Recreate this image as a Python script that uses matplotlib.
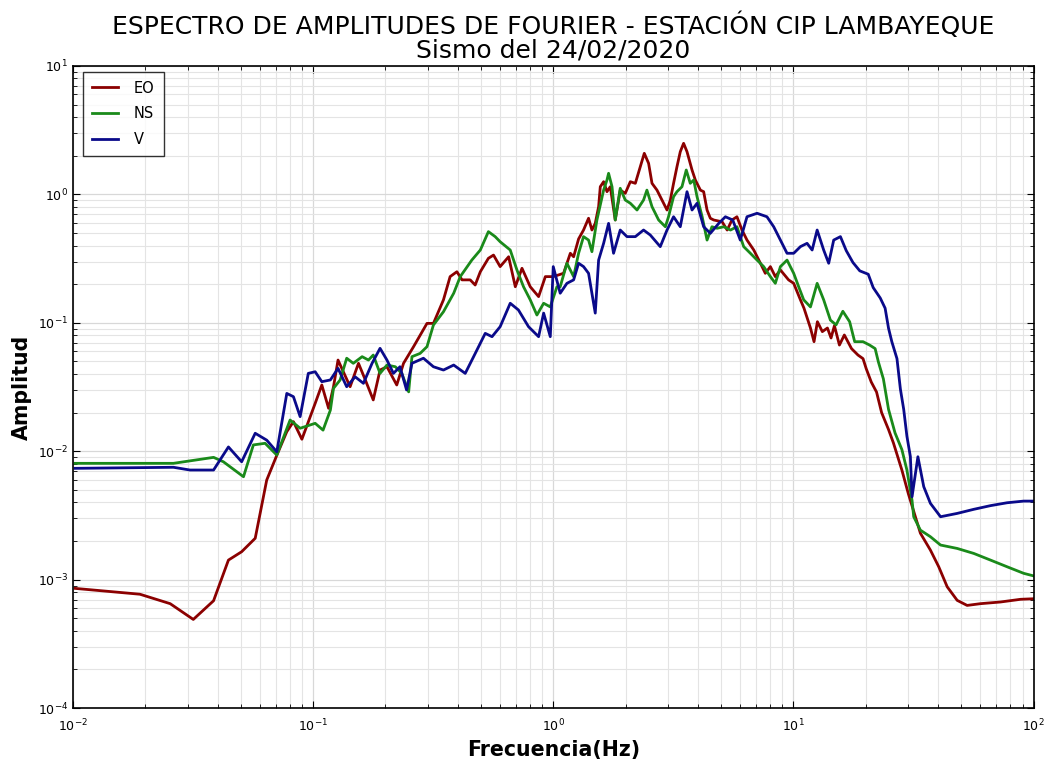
import matplotlib
matplotlib.use("Agg")
import matplotlib.pyplot as plt
import numpy as np

# ---- data ----
eo_freq = [0.0102, 0.019, 0.0254, 0.0317, 0.0385, 0.0444, 0.0504, 0.0574, 0.0641, 0.0706,
           0.0777, 0.0828, 0.0898, 0.102, 0.1087, 0.116, 0.1216, 0.127, 0.1426, 0.1545,
           0.165, 0.178, 0.190, 0.203, 0.223, 0.238, 0.262, 0.298, 0.317, 0.349,
           0.372, 0.397, 0.417, 0.451, 0.473, 0.497, 0.537, 0.564, 0.601, 0.652,
           0.695, 0.741, 0.802, 0.869, 0.927, 1.00, 1.104, 1.178, 1.216, 1.275,
           1.337, 1.403, 1.449, 1.496, 1.545, 1.570, 1.621, 1.674, 1.728, 1.812,
           1.901, 1.995, 2.094, 2.197, 2.304, 2.394, 2.495, 2.578, 2.704, 2.838,
           2.977, 3.073, 3.17, 3.275, 3.381, 3.49, 3.606, 3.784, 3.906, 4.10,
           4.23, 4.37, 4.51, 4.66, 5.05, 5.30, 5.55, 5.82, 6.11, 6.41,
           6.84, 7.29, 7.64, 8.02, 8.41, 8.83, 9.55, 10.03, 10.7, 11.07,
           11.78, 12.19, 12.59, 13.2, 13.86, 14.35, 14.82, 15.55, 16.3, 17.46,
           18.58, 19.5, 20.1, 21.1, 22.2, 23.3, 24.9, 26.1, 28.3, 30.1,
           33.8, 37.2, 40.3, 43.7, 48.1, 52.9, 60.1, 72.9, 88.3, 100.0]
eo_amp = [0.000855, 0.00077, 0.00065, 0.00049, 0.000685, 0.00142, 0.00165, 0.0021, 0.00597, 0.0093,
          0.0142, 0.017, 0.0124, 0.0236, 0.0328, 0.0216, 0.0318, 0.0513, 0.0318, 0.0484,
          0.0359, 0.0251, 0.0429, 0.0455, 0.0328, 0.0484, 0.0652, 0.099, 0.099, 0.151,
          0.229, 0.250, 0.216, 0.216, 0.197, 0.250, 0.318, 0.337, 0.274, 0.327,
          0.191, 0.266, 0.191, 0.160, 0.229, 0.229, 0.243, 0.348, 0.327, 0.45,
          0.528, 0.652, 0.528, 0.595, 0.802, 1.148, 1.256, 1.05, 1.148, 0.632,
          1.08, 1.02, 1.256, 1.22, 1.643, 2.09, 1.746, 1.22, 1.08, 0.904,
          0.756, 0.904, 1.22, 1.643, 2.15, 2.50, 2.15, 1.549, 1.295, 1.08,
          1.05, 0.756, 0.652, 0.632, 0.612, 0.528, 0.632, 0.670, 0.528, 0.441,
          0.369, 0.291, 0.243, 0.274, 0.229, 0.258, 0.216, 0.203, 0.151, 0.130,
          0.0911, 0.0713, 0.102, 0.0854, 0.0911, 0.0762, 0.095, 0.0671, 0.0804, 0.063,
          0.0561, 0.0526, 0.044, 0.0346, 0.0289, 0.020, 0.01476, 0.0116, 0.00714, 0.00468,
          0.0023, 0.0017, 0.00126, 0.00088, 0.00069, 0.00063, 0.00065, 0.00067, 0.000703, 0.00071]

ns_freq = [0.0102, 0.0262, 0.0385, 0.0423, 0.0513, 0.0564, 0.0631, 0.0706, 0.0802, 0.0883,
           0.102, 0.110, 0.118, 0.1216, 0.1296, 0.138, 0.147, 0.160, 0.170, 0.178,
           0.190, 0.203, 0.220, 0.234, 0.250, 0.258, 0.279, 0.298, 0.317, 0.349,
           0.385, 0.410, 0.458, 0.497, 0.537, 0.573, 0.601, 0.662, 0.706, 0.752,
           0.802, 0.855, 0.912, 0.972, 1.036, 1.069, 1.14, 1.216, 1.275, 1.337,
           1.403, 1.449, 1.52, 1.621, 1.674, 1.70, 1.757, 1.812, 1.901, 1.995,
           2.094, 2.233, 2.377, 2.455, 2.578, 2.747, 2.93, 3.02, 3.17, 3.275,
           3.436, 3.58, 3.72, 3.846, 3.97, 4.17, 4.37, 4.58, 4.81, 5.13,
           5.47, 5.82, 6.21, 6.62, 7.06, 7.52, 8.02, 8.41, 8.83, 9.41,
           10.03, 10.52, 11.04, 11.78, 12.56, 13.37, 14.26, 15.06, 16.07, 17.15,
           18.0, 19.5, 20.8, 21.9, 22.6, 23.7, 24.9, 26.5, 28.3, 29.7,
           31.2, 31.7, 33.8, 37.2, 41.0, 48.1, 56.4, 66.2, 77.6, 91.0, 100.0]
ns_amp = [0.00805, 0.00805, 0.00896, 0.00828, 0.00633, 0.0112, 0.01153, 0.00934, 0.0175, 0.0151,
          0.0165, 0.0146, 0.0209, 0.0309, 0.0359, 0.0530, 0.0484, 0.0545, 0.0513, 0.0561,
          0.0404, 0.0469, 0.0455, 0.0404, 0.0290, 0.0545, 0.0578, 0.0652, 0.0962, 0.122,
          0.170, 0.229, 0.308, 0.369, 0.513, 0.469, 0.428, 0.369, 0.258, 0.191,
          0.151, 0.115, 0.142, 0.133, 0.191, 0.191, 0.291, 0.229, 0.348, 0.469,
          0.441, 0.358, 0.632, 1.08, 1.295, 1.46, 1.148, 0.632, 1.116, 0.904,
          0.853, 0.756, 0.904, 1.08, 0.802, 0.632, 0.560, 0.670, 0.96, 1.05,
          1.148, 1.549, 1.22, 1.295, 0.96, 0.670, 0.441, 0.560, 0.545, 0.560,
          0.528, 0.560, 0.392, 0.348, 0.308, 0.274, 0.229, 0.203, 0.274, 0.308,
          0.243, 0.191, 0.151, 0.133, 0.203, 0.151, 0.105, 0.0964, 0.123, 0.102,
          0.0713, 0.0713, 0.067, 0.063, 0.0495, 0.0366, 0.0212, 0.0139, 0.0103, 0.00714,
          0.00414, 0.00309, 0.00243, 0.00216, 0.00186, 0.00175, 0.0016, 0.00142, 0.00126, 0.00112, 0.00107]

v_freq = [0.0102, 0.0262, 0.0307, 0.0385, 0.0444, 0.0504, 0.0574, 0.0641, 0.0706, 0.0777,
          0.0828, 0.0883, 0.0955, 0.102, 0.1087, 0.118, 0.127, 0.138, 0.1496, 0.162,
          0.176, 0.190, 0.203, 0.216, 0.230, 0.245, 0.258, 0.288, 0.317, 0.349,
          0.385, 0.430, 0.466, 0.521, 0.556, 0.601, 0.662, 0.716, 0.789, 0.869,
          0.912, 0.972, 1.00, 1.069, 1.14, 1.216, 1.275, 1.337, 1.403, 1.496,
          1.545, 1.621, 1.70, 1.783, 1.901, 2.028, 2.197, 2.377, 2.535, 2.79,
          2.977, 3.17, 3.381, 3.606, 3.784, 3.97, 4.23, 4.51, 4.89, 5.21,
          5.59, 6.01, 6.41, 7.06, 7.76, 8.28, 8.83, 9.41, 10.03, 10.7,
          11.4, 11.97, 12.56, 13.37, 14.03, 14.72, 15.7, 16.6, 17.7, 18.9,
          20.5, 21.5, 23.0, 24.1, 24.9, 25.7, 27.0, 27.9, 28.8, 29.7,
          30.7, 31.2, 33.0, 34.9, 37.2, 41.0, 48.1, 56.4, 66.2, 77.6, 91.0, 100.0]
v_amp = [0.00736, 0.0075, 0.00714, 0.00714, 0.0108, 0.00828, 0.0138, 0.0122, 0.0099, 0.0282,
         0.0266, 0.0186, 0.0404, 0.0416, 0.0348, 0.0359, 0.0442, 0.0318, 0.038, 0.0338,
         0.0484, 0.0633, 0.0513, 0.0404, 0.0455, 0.030, 0.0484, 0.053, 0.0455, 0.0429,
         0.0469, 0.0404, 0.0545, 0.0828, 0.078, 0.0933, 0.142, 0.126, 0.0933, 0.078,
         0.119, 0.078, 0.274, 0.170, 0.203, 0.216, 0.291, 0.274, 0.243, 0.119,
         0.308, 0.416, 0.595, 0.348, 0.528, 0.469, 0.469, 0.528, 0.483, 0.392,
         0.528, 0.670, 0.560, 1.05, 0.756, 0.853, 0.560, 0.498, 0.595, 0.670,
         0.632, 0.441, 0.670, 0.713, 0.670, 0.560, 0.441, 0.348, 0.348, 0.392,
         0.416, 0.369, 0.528, 0.369, 0.291, 0.441, 0.469, 0.365, 0.295, 0.254,
         0.239, 0.188, 0.156, 0.130, 0.0908, 0.0713, 0.0526, 0.0305, 0.0212, 0.0131,
         0.0091, 0.00442, 0.00906, 0.0053, 0.00393, 0.00309, 0.00328, 0.00353, 0.00377, 0.00397, 0.00409, 0.00409]

series_names = ["EO", "NS", "V"]
series_colors = ["#8b0000", "#1a8a1a", "#0a0a8a"]

fig = plt.figure(figsize=(10.53, 7.63), dpi=100, facecolor="white")
ax = fig.add_axes([0.0693, 0.072, 0.9122, 0.8415])

for fr, am, name, col in zip([eo_freq, ns_freq, v_freq], [eo_amp, ns_amp, v_amp],
                             series_names, series_colors):
    ax.plot(fr, am, color=col, lw=2.0, label=name)

ax.set_xscale("log")
ax.set_yscale("log")
ax.set_xlim(1e-2, 1e2)
ax.set_ylim(1e-4, 1e1)

ax.grid(True, which="major", color="#d8d8d8", lw=0.9, ls="-")
ax.grid(True, which="minor", color="#e4e4e4", lw=0.8, ls="-")
ax.set_axisbelow(True)
ax.tick_params(which="both", direction="in", top=True, right=True, labelsize=9)
ax.tick_params(which="major", length=5)
ax.tick_params(which="minor", length=3)
ax.tick_params(axis="x", which="major", pad=7)
for sp in ax.spines.values():
    sp.set_linewidth(1.2)

ax.set_xlabel("Frecuencia(Hz)", fontsize=14.8, fontweight="bold", labelpad=4)
ax.set_ylabel("Amplitud", fontsize=14.8, fontweight="bold", labelpad=4)
ax.set_title("ESPECTRO DE AMPLITUDES DE FOURIER - ESTACIÓN CIP LAMBAYEQUE\nSismo del 24/02/2020",
             fontsize=18, linespacing=1.0, pad=6)

leg = ax.legend(loc="upper left", fontsize=10.5, frameon=True, fancybox=False,
                edgecolor="black", handlelength=1.8, handletextpad=1.1, borderpad=0.6,
                labelspacing=0.75, borderaxespad=0.0, bbox_to_anchor=(0.0104, 0.991))
leg.get_frame().set_linewidth(1.0)

fig.savefig("out.png", dpi=100, facecolor="white")
